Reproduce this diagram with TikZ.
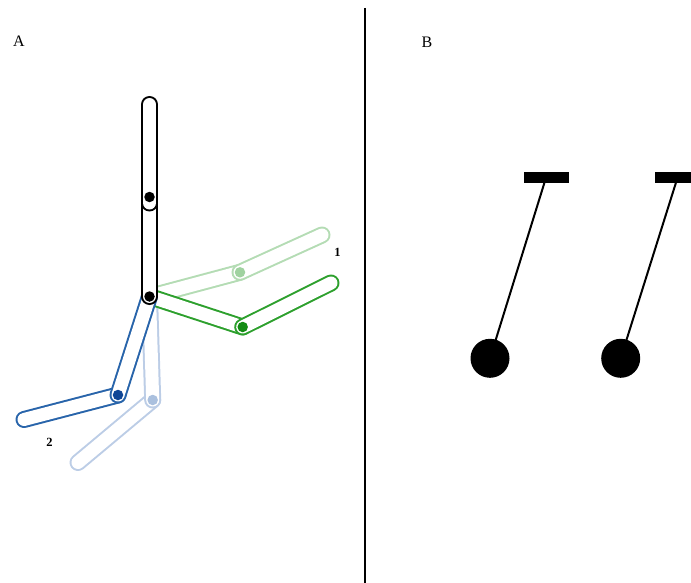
\documentclass[tikz,border=0pt]{standalone}
\usepackage{fontspec}
\setmainfont{Liberation Serif}
\definecolor{gsolid}{RGB}{45,160,45}
\definecolor{gdot}{RGB}{20,140,20}
\definecolor{gfade}{RGB}{180,220,180}
\definecolor{gfadedot}{RGB}{160,210,160}
\definecolor{bsolid}{RGB}{40,100,170}
\definecolor{bdot}{RGB}{15,70,150}
\definecolor{bfade}{RGB}{188,205,230}
\definecolor{bfadedot}{RGB}{170,192,222}
\newcommand\legpill[3]{%
  \draw[line width=17pt,line cap=round,#1] (#2) -- (#3);
  \draw[line width=13pt,line cap=round,white] (#2) -- (#3);}
\tikzset{
  jointdot/.style={circle,inner sep=0pt,minimum size=10.5pt},
  panellabel/.style={inner sep=0pt,font=\fontsize{16}{19}\selectfont},
  numlabel/.style={inner sep=0pt,font=\fontsize{12.5}{15}\selectfont\bfseries},
  rod/.style={line width=2pt},
}
\begin{document}
\begin{tikzpicture}[x=1pt,y=-1pt]
\useasboundingbox (0,0) rectangle (691,583);
% coordinates panel A
\coordinate (top) at (149.5,104.5);
\coordinate (mid) at (149.5,197);
\coordinate (midcap) at (149.5,203);
\coordinate (hip) at (149.5,296.5);
\coordinate (gk) at (242.7,327);
\coordinate (ge) at (331,283);
\coordinate (gfk) at (240,272.3);
\coordinate (gfe) at (322,235);
\coordinate (bk) at (118,395);
\coordinate (be) at (24,419.5);
\coordinate (bfk) at (152.7,400);
\coordinate (bfe) at (78,462.5);
% faded legs
\legpill{gfade}{hip}{gfk}
\legpill{gfade}{gfk}{gfe}
\legpill{bfade}{bfk}{bfe}
\legpill{bfade}{hip}{bfk}
% solid legs
\legpill{gsolid}{hip}{gk}
\legpill{gsolid}{gk}{ge}
\legpill{bsolid}{bk}{be}
\legpill{bsolid}{hip}{bk}
% black body
\legpill{black}{mid}{hip}
\legpill{black}{top}{midcap}
% joints
\node[jointdot,fill=black] (j1) at (mid) {};
\node[jointdot,fill=black] (j2) at (hip) {};
\node[jointdot,fill=gdot] (j3) at (gk) {};
\node[jointdot,fill=gfadedot] (j4) at (gfk) {};
\node[jointdot,fill=bdot] (j5) at (bk) {};
\node[jointdot,fill=bfadedot] (j6) at (bfk) {};
% labels
\node[panellabel] (la) at (19,41) {A};
\node[panellabel] (lb) at (427,42) {B};
\node[numlabel] (n1) at (337.5,252.5) {1};
\node[numlabel] (n2) at (49.5,442) {2};
% divider
\coordinate (d1) at (365,8);
\coordinate (d2) at (365,583);
\draw[line width=1.2pt] (d1) -- (d2);
% panel B pendulums
\fill (524,172) rectangle (569,183);
\fill (655,172) rectangle (691,183);
\coordinate (p1) at (544.5,182.5);
\coordinate (p2) at (676,182.5);
\node[circle,fill=black,inner sep=0pt,minimum size=39pt] (ball1) at (490,358.3) {};
\node[circle,fill=black,inner sep=0pt,minimum size=39pt] (ball2) at (620.7,358.3) {};
\draw[rod] (p1) -- (ball1.center);
\draw[rod] (p2) -- (ball2.center);
\end{tikzpicture}
\end{document}
